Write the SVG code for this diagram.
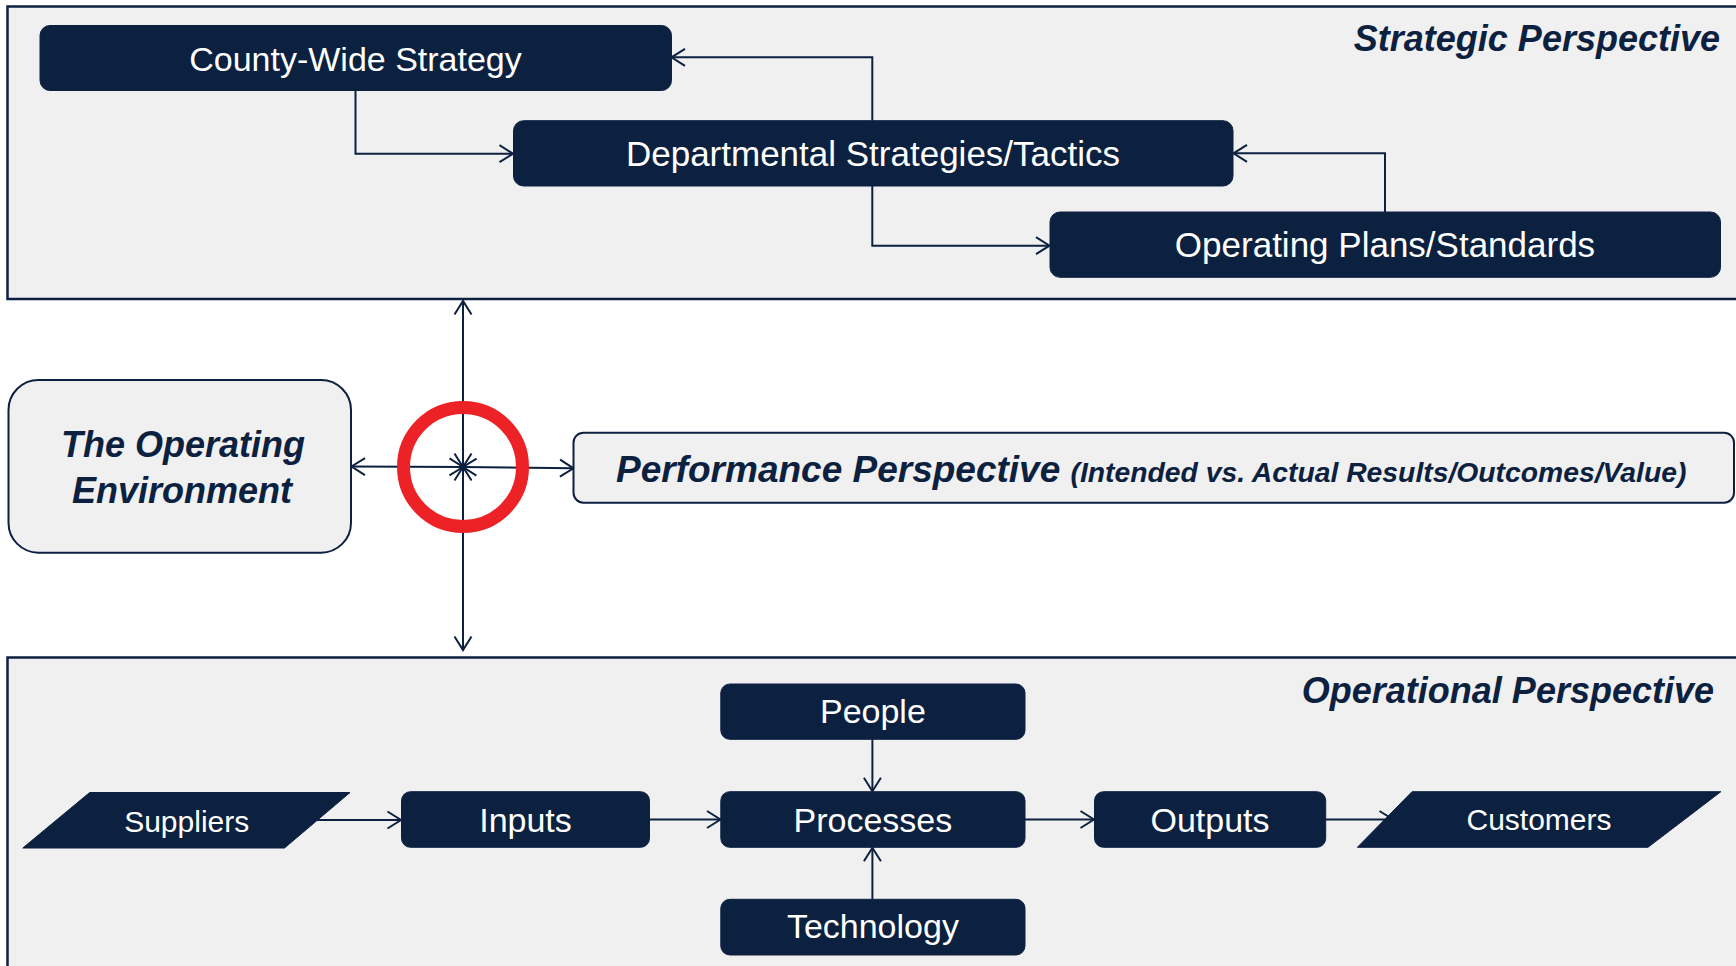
<svg xmlns="http://www.w3.org/2000/svg" width="1736" height="966" viewBox="0 0 1736 966">
  <style>
    .panel { fill: #f0f0f0; stroke: #0c2140; stroke-width: 2.5; }
    .soft { fill: #f0f0f0; stroke: #0c2140; stroke-width: 2; }
    .node { fill: #0c2140; stroke: #0c2140; stroke-width: 1; }
    .lbl { font-family: "Liberation Sans", Arial, sans-serif; fill: #ffffff; text-anchor: middle; }
    .title { font-family: "Liberation Sans", Arial, sans-serif; font-weight: bold; font-style: italic; fill: #0c2140; }
    .conn { fill: none; stroke: #0c2140; stroke-width: 2; }
  </style>
  <defs>
    <marker id="arrow" viewBox="0 0 17 20" refX="15" refY="10" markerWidth="17" markerHeight="20" markerUnits="userSpaceOnUse" orient="auto-start-reverse">
      <path d="M1.5,1.5 L15,10 L1.5,18.5" fill="none" stroke="#0c2140" stroke-width="2"/>
    </marker>
  </defs>
  <rect width="1736" height="966" fill="#ffffff"/>

  <g id="strategic-panel">
    <rect class="panel" x="7.5" y="6.5" width="1740" height="292.5"/>
    <text class="title" x="1720" y="51" font-size="36" text-anchor="end">Strategic Perspective</text>
  </g>

  <g id="operational-panel">
    <rect class="panel" x="7.5" y="657.5" width="1740" height="320"/>
    <text class="title" x="1714" y="703" font-size="36" text-anchor="end">Operational Perspective</text>
  </g>

  <g id="connectors">
    <path class="conn" d="M355.5,90.7 V153.7 H513" marker-end="url(#arrow)"/>
    <path class="conn" d="M872.3,120.7 V57.3 H671.5" marker-end="url(#arrow)"/>
    <path class="conn" d="M872.3,186 V245.7 H1049.5" marker-end="url(#arrow)"/>
    <path class="conn" d="M1385,212 V153.3 H1233.5" marker-end="url(#arrow)"/>
    <path class="conn" d="M463,467 V301" marker-start="url(#arrow)" marker-end="url(#arrow)"/>
    <path class="conn" d="M463,467 V650" marker-start="url(#arrow)" marker-end="url(#arrow)"/>
    <path class="conn" d="M463,467 L351.5,466.5" marker-start="url(#arrow)" marker-end="url(#arrow)"/>
    <path class="conn" d="M463,467 L573.5,468.3" marker-start="url(#arrow)" marker-end="url(#arrow)"/>
    <path class="conn" d="M317,820 H401" marker-end="url(#arrow)"/>
    <path class="conn" d="M649.5,819.5 H720.5" marker-end="url(#arrow)"/>
    <path class="conn" d="M1025,819.5 H1094" marker-end="url(#arrow)"/>
    <path class="conn" d="M1325.7,819.5 H1393" marker-end="url(#arrow)"/>
    <path class="conn" d="M872.4,739.3 V791.2" marker-end="url(#arrow)"/>
    <path class="conn" d="M872.4,899.3 V847.8" marker-end="url(#arrow)"/>
  </g>

  <g id="county-wide-strategy">
    <rect class="node" x="40" y="25.5" width="631.5" height="65" rx="10"/>
    <text class="lbl" x="355.5" y="70.5" font-size="34">County-Wide Strategy</text>
  </g>
  <g id="departmental-strategies">
    <rect class="node" x="513.5" y="120.7" width="719.5" height="65.3" rx="10"/>
    <text class="lbl" x="873" y="165.5" font-size="35">Departmental Strategies/Tactics</text>
  </g>
  <g id="operating-plans">
    <rect class="node" x="1050" y="212" width="670.5" height="65.3" rx="10"/>
    <text class="lbl" x="1385" y="256.5" font-size="35">Operating Plans/Standards</text>
  </g>

  <g id="operating-environment">
    <rect class="soft" x="8.5" y="380" width="342.5" height="172.7" rx="30"/>
    <text class="title" x="183" y="457" font-size="36" text-anchor="middle">The Operating</text>
    <text class="title" x="182" y="503" font-size="36" text-anchor="middle">Environment</text>
  </g>

  <g id="performance-perspective">
    <rect class="soft" x="573.5" y="432.7" width="1160.5" height="70" rx="10"/>
    <text class="title" x="616" y="482" font-size="37">Performance Perspective <tspan font-size="28.3">(Intended vs. Actual Results/Outcomes/Value)</tspan></text>
  </g>

  <g id="focus-ring">
    <circle cx="463" cy="467" r="59.5" fill="none" stroke="#ec2227" stroke-width="13"/>
  </g>

  <g id="suppliers">
    <polygon class="node" points="89.7,792.5 350,792.5 284.5,848 22.8,848"/>
    <text class="lbl" x="186.7" y="831.5" font-size="30">Suppliers</text>
  </g>
  <g id="inputs">
    <rect class="node" x="401.5" y="791.7" width="248" height="55.6" rx="9"/>
    <text class="lbl" x="525.5" y="831.5" font-size="34">Inputs</text>
  </g>
  <g id="people">
    <rect class="node" x="720.8" y="684" width="304.2" height="55.3" rx="9"/>
    <text class="lbl" x="872.9" y="723.3" font-size="34">People</text>
  </g>
  <g id="processes">
    <rect class="node" x="720.8" y="791.7" width="304.2" height="55.6" rx="9"/>
    <text class="lbl" x="872.9" y="831.5" font-size="34">Processes</text>
  </g>
  <g id="technology">
    <rect class="node" x="720.8" y="899.3" width="304.2" height="55.7" rx="9"/>
    <text class="lbl" x="872.9" y="938.3" font-size="34">Technology</text>
  </g>
  <g id="outputs">
    <rect class="node" x="1094.5" y="791.7" width="231.2" height="55.6" rx="9"/>
    <text class="lbl" x="1210" y="831.5" font-size="34">Outputs</text>
  </g>
  <g id="customers">
    <polygon class="node" points="1412,791.7 1720.8,791.7 1648,847.3 1357.4,847.3"/>
    <text class="lbl" x="1539" y="829.5" font-size="30">Customers</text>
  </g>
</svg>
